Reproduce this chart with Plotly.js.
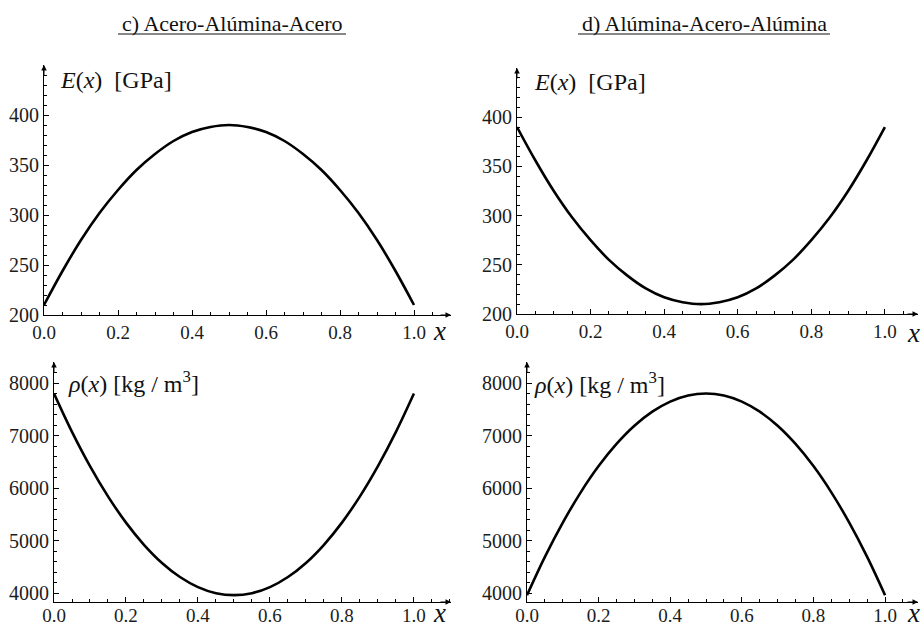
<!DOCTYPE html>
<html>
<head>
<meta charset="utf-8">
<script src="https://cdn.plot.ly/plotly-3.0.1.min.js"></script>
<style>html,body{margin:0;padding:0;background:#fff;}#chart{width:921px;height:628px;}</style>
</head>
<body>
<div id="chart"></div>
<script>
// ---- data ----
const xs = [0,0.05,0.1,0.15,0.2,0.25,0.3,0.35,0.4,0.45,0.5,0.55,0.6,0.65,0.7,0.75,0.8,0.85,0.9,0.95,1.0];
// c) Acero-Alúmina-Acero
const E_c   = [210,244,275,302,325,345,361,374,383,388,390,388,383,374,361,345,325,302,275,244,210];
const rho_c = [7800,7070,6418,5842,5342,4920,4574,4306,4114,3998,3960,3998,4114,4306,4574,4920,5342,5842,6418,7070,7800];
// d) Alúmina-Acero-Alúmina
const E_d   = [390,356,325,298,275,255,239,226,217,212,210,212,217,226,239,255,275,298,325,356,390];
const rho_d = [3960,4690,5342,5918,6418,6840,7186,7454,7646,7762,7800,7762,7646,7454,7186,6840,6418,5918,5342,4690,3960];

const xTickVals = [0,0.2,0.4,0.6,0.8,1.0];
const xTickText = ['0.0','0.2','0.4','0.6','0.8','1.0'];
const eTickVals = [200,250,300,350,400];
const rTickVals = [4000,5000,6000,7000,8000];
const titles = ['c) Acero-Alúmina-Acero','d) Alúmina-Acero-Alúmina'];

const W = 921, H = 628;
const px = v => v / W;
const py = v => 1 - v / H; // pixel-from-top to paper

const serif = 'Liberation Serif';
const xTickFont = {family: serif, size: 19, color: '#1c1c1c'};
const yTickFont = {family: serif, size: 20, color: '#1c1c1c'};

function line(x, y, xa, ya) {
  return {x: x, y: y, xaxis: xa, yaxis: ya, type: 'scatter', mode: 'lines',
          line: {color: '#000', width: 2.6, shape: 'spline'}, hoverinfo: 'skip'};
}
const data = [
  line(xs, E_c, 'x', 'y'),
  line(xs, E_d, 'x2', 'y2'),
  line(xs, rho_c, 'x3', 'y3'),
  line(xs, rho_d, 'x4', 'y4')
];

function xaxis(l, r, xmax, anchor, standoff) {
  return {domain: [px(l), px(r)], range: [0, xmax], anchor: anchor,
          tickmode: 'array', tickvals: xTickVals, ticktext: xTickText,
          ticks: 'inside', ticklen: 5, tickwidth: 1, tickcolor: '#000',
          ticklabelstandoff: standoff,
          showline: true, linecolor: '#000', linewidth: 1,
          showgrid: false, zeroline: false, tickfont: xTickFont,
          minor: {tickmode: 'linear', tick0: 0, dtick: 0.05, ticks: 'inside', ticklen: 3, tickcolor: '#000', showgrid: false},
          fixedrange: true};
}
function yaxis(bot, top, range, tickvals, mdt, anchor) {
  return {domain: [py(bot), py(top)], range: range, anchor: anchor,
          tickmode: 'array', tickvals: tickvals,
          ticks: 'inside', ticklen: 5, tickwidth: 1, tickcolor: '#000',
          showline: true, linecolor: '#000', linewidth: 1,
          showgrid: false, zeroline: false, tickfont: yTickFont,
          minor: {tickmode: 'linear', tick0: tickvals[0], dtick: mdt, ticks: 'inside', ticklen: 3, tickcolor: '#000', showgrid: false},
          fixedrange: true};
}

const layout = {
  width: W, height: H, margin: {l: 0, r: 0, t: 0, b: 0},
  font: {family: serif},
  paper_bgcolor: '#fff', plot_bgcolor: 'rgba(0,0,0,0)', showlegend: false,
  xaxis:  xaxis(44, 451, 1.1, 'y', 0),
  yaxis:  yaxis(315, 65, [200, 450], eTickVals, 10, 'x'),
  xaxis2: xaxis(517, 918, 1.09, 'y2', 0),
  yaxis2: yaxis(314, 68, [200, 450], eTickVals, 10, 'x2'),
  xaxis3: xaxis(54, 451, 1.103, 'y3', -4),
  yaxis3: yaxis(602, 362, [3830, 8400], rTickVals, 200, 'x3'),
  xaxis4: xaxis(527, 918, 1.092, 'y4', -4),
  yaxis4: yaxis(602, 362, [3830, 8400], rTickVals, 200, 'x4'),
  annotations: [],
  shapes: []
};

// panel titles (underlined)
const titleCx = [232, 704];
const titleHalf = [114, 126];
for (let i = 0; i < 2; i++) {
  layout.annotations.push({xref: 'paper', yref: 'paper', x: px(titleCx[i]), y: py(23), text: titles[i],
    showarrow: false, xanchor: 'center', yanchor: 'middle', font: {family: serif, size: 22, color: '#111'}});
  layout.shapes.push({type: 'line', xref: 'paper', yref: 'paper',
    x0: px(titleCx[i] - titleHalf[i]), x1: px(titleCx[i] + titleHalf[i]), y0: py(34), y1: py(34),
    line: {color: '#111', width: 1}});
}

// y-axis labels
const eLab = '<i>E</i>(<i>x</i>)  [GPa]';
const rLab = '<i>ρ</i>(<i>x</i>) [kg / m<sup>3</sup>]';
const labFont = {family: serif, size: 24, color: '#111'};
[[58, 80, eLab], [532, 82, eLab], [66, 382, rLab], [532, 383, rLab]].forEach(a => {
  layout.annotations.push({xref: 'paper', yref: 'paper', x: px(a[0]), y: py(a[1]), text: a[2],
    showarrow: false, xanchor: 'left', yanchor: 'middle', font: labFont});
});

// x-axis letters
[[439, 331], [913, 333], [439, 613], [913, 613]].forEach(a => {
  layout.annotations.push({xref: 'paper', yref: 'paper', x: px(a[0]), y: py(a[1]), text: '<i>x</i>',
    showarrow: false, xanchor: 'center', yanchor: 'middle', font: {family: serif, size: 27, color: '#111'}});
});

// axis arrowheads
const axes = [['x','y',1.1,200,450],['x2','y2',1.09,200,450],['x3','y3',1.103,3830,8400],['x4','y4',1.092,3830,8400]];
axes.forEach(a => {
  layout.annotations.push({xref: a[0], yref: a[1], x: a[2], y: a[3], ax: -12, ay: 0, text: '',
    showarrow: true, arrowhead: 2, arrowsize: 1.1, arrowwidth: 1, arrowcolor: '#000'});
  layout.annotations.push({xref: a[0], yref: a[1], x: 0, y: a[4], ax: 0, ay: 12, text: '',
    showarrow: true, arrowhead: 2, arrowsize: 1.1, arrowwidth: 1, arrowcolor: '#000'});
});

Plotly.newPlot('chart', data, layout, {displayModeBar: false, staticPlot: true});
</script>
</body>
</html>
